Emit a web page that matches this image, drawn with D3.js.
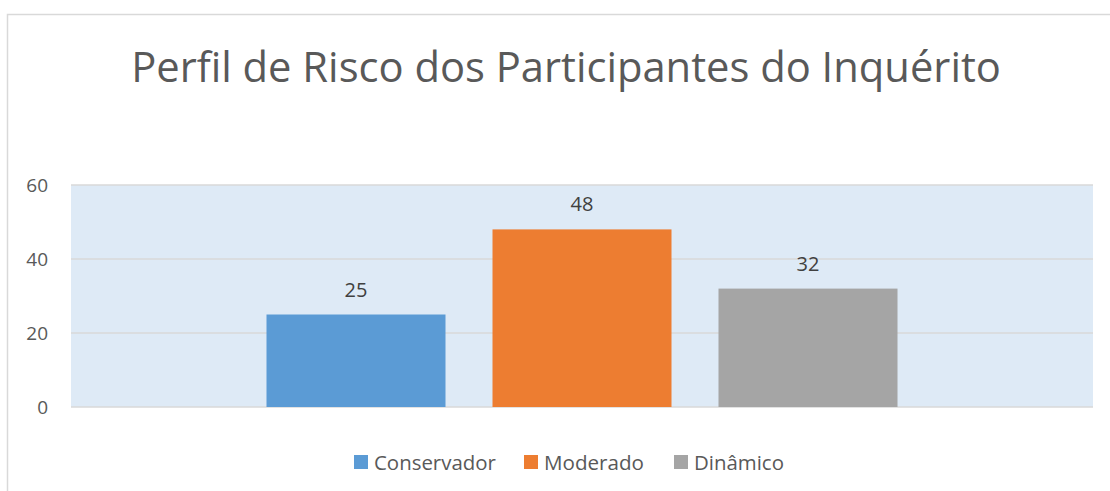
<!DOCTYPE html>
<html>
<head>
<meta charset="utf-8">
<script src="https://cdn.jsdelivr.net/npm/d3@7"></script>
<style>
  body { margin: 0; background: #fff; }
  text { font-family: "Open Sans", "Noto Sans", sans-serif; }
</style>
</head>
<body>
<svg width="1110" height="491"></svg>
<script>
const title = 'Perfil de Risco dos Participantes do Inquérito'
const series = ['Conservador', 'Moderado', 'Dinâmico']
const values = [25, 48, 32]
const colors = ['#5B9BD5', '#ED7D31', '#A5A5A5']
const yTicks = [0, 20, 40, 60]

const svg = d3.select('svg')

// outer chart frame
svg.append('rect')
  .attr('x', 7.5).attr('y', 14.5)
  .attr('width', 1110).attr('height', 500)
  .attr('fill', '#fff')
  .attr('stroke', '#D9D9D9')
  .attr('stroke-width', 1.5)

const plot = {left: 71, right: 1093, top: 185, bottom: 407}

const y = d3.scaleLinear().domain([0, 60]).range([plot.bottom, plot.top])
const x = d3.scaleBand().domain(series)
  .range([plot.left, plot.right])
  .paddingInner(0.208)
  .paddingOuter(0.865)

svg.append('rect')
  .attr('x', plot.left).attr('y', plot.top)
  .attr('width', plot.right - plot.left)
  .attr('height', plot.bottom - plot.top)
  .attr('fill', '#DEEAF6')

// gridlines
svg.selectAll('.grid')
  .data(yTicks)
  .enter().append('line')
  .attr('x1', plot.left).attr('x2', plot.right)
  .attr('y1', d => y(d)).attr('y2', d => y(d))
  .attr('stroke', '#D9D9D9')
  .attr('stroke-width', 1.5)

// y axis labels
const yAxis = d3.axisLeft(y).tickValues(yTicks).tickSize(0).tickPadding(23)
const ga = svg.append('g').attr('transform', `translate(${plot.left},0)`).call(yAxis)
ga.select('.domain').remove()
ga.selectAll('text')
  .attr('font-family', '"Open Sans", sans-serif')
  .attr('font-size', 19)
  .attr('fill', '#595959')

// bars
svg.selectAll('.bar')
  .data(values)
  .enter().append('rect')
  .attr('x', (d, i) => x(series[i]))
  .attr('y', d => y(d))
  .attr('width', x.bandwidth())
  .attr('height', d => plot.bottom - y(d))
  .attr('fill', (d, i) => colors[i])

// data labels
svg.selectAll('.lbl')
  .data(values)
  .enter().append('text')
  .attr('x', (d, i) => x(series[i]) + x.bandwidth() / 2)
  .attr('y', d => y(d) - 18)
  .attr('text-anchor', 'middle')
  .attr('font-size', 20)
  .attr('fill', '#404040')
  .text(d => d)

// title, fit to the reference width
const t = svg.append('text')
  .attr('x', 566).attr('y', 82)
  .attr('text-anchor', 'middle')
  .attr('font-size', 40)
  .attr('fill', '#595959')
  .text(title)
const tw = t.node().getComputedTextLength()
t.attr('font-size', 40 * 870 / tw)

// legend
const legendX = [354, 524, 674]
const legendW = [122, 100, 90]
const lg = svg.selectAll('.leg')
  .data(series)
  .enter().append('g')
  .attr('transform', (d, i) => `translate(${legendX[i]},455)`)
lg.append('rect')
  .attr('width', 14).attr('height', 14)
  .attr('fill', (d, i) => colors[i])
lg.append('text')
  .attr('x', 20).attr('y', 14.5)
  .attr('font-size', 20)
  .attr('fill', '#595959')
  .text(d => d)
  .each(function(d, i) {
    const w = this.getComputedTextLength()
    d3.select(this).attr('font-size', 20 * legendW[i] / w)
  })
</script>
</body>
</html>
